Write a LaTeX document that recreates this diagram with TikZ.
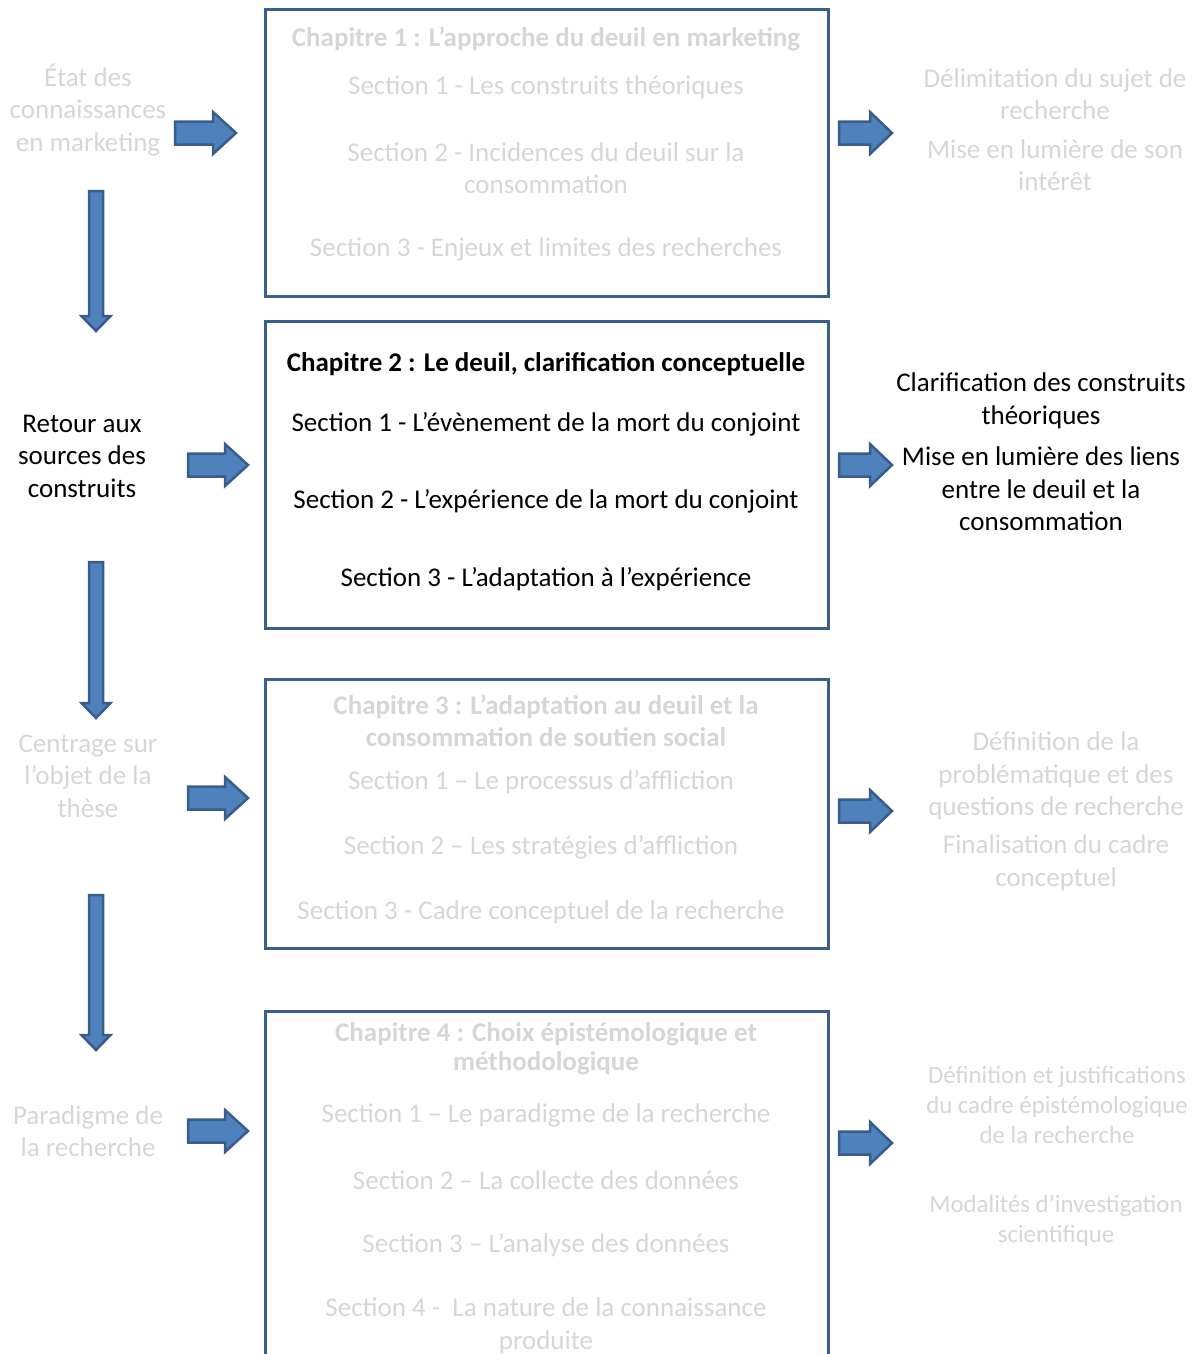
\documentclass[tikz,border=0pt]{standalone}
\usepackage{fontspec}
\setmainfont{Carlito}
\definecolor{fadedgray}{RGB}{214,214,214}
\definecolor{arrowfill}{RGB}{79,129,189}
\definecolor{arrowline}{RGB}{56,93,138}
\definecolor{boxline}{RGB}{58,95,140}
\newcommand\rightblock[5]{%
  \draw[blockarrow] (#1,#3-11.5) -- (#4,#3-11.5) -- (#4,#3-21) -- (#2,#3) -- (#4,#3+21) -- (#4,#3+11.5) -- (#1,#3+11.5) -- cycle;
  \coordinate (#5) at (#2,#3);}
\newcommand\downblock[5]{%
  \draw[blockarrow] (#1-7,#2) -- (#1+7,#2) -- (#1+7,#4) -- (#1+14.5,#4) -- (#1,#3) -- (#1-14.5,#4) -- (#1-7,#4) -- cycle;
  \coordinate (#5) at (#1,#3);}
\begin{document}
\begin{tikzpicture}[x=1pt,y=-1pt,
  base/.style={font=\fontsize{27}{32.5}\selectfont, align=center, inner sep=0pt},
  small/.style={font=\fontsize{24.8}{30}\selectfont, align=center, inner sep=0pt},
  faded/.style={text=fadedgray},
  live/.style={text=black},
  chapbox/.style={draw=boxline, line width=3pt, minimum width=563pt, anchor=north west, inner sep=0pt},
  blockarrow/.style={fill=arrowfill, draw=arrowline, line width=2.5pt, line join=miter}]
\useasboundingbox (0,0) rectangle (1197,1354);
\clip (0,0) rectangle (1197,1354);

% chapter boxes
\node[chapbox, minimum height=286pt] (box1) at (263.5,8.5) {};
\node[chapbox, minimum height=307pt] (box2) at (263.5,319.5) {};
\node[chapbox, minimum height=269pt] (box3) at (263.5,677.5) {};
\node[chapbox, minimum height=420pt] (box4) at (263.5,1009.5) {};

% box 1
\node[base, faded, font=\fontsize{27}{32.5}\selectfont\bfseries] (c1t) at (546,39) {Chapitre 1 : L’approche du deuil en marketing};
\node[base, faded] (c1s1) at (546,87) {Section 1 - Les construits théoriques};
\node[base, faded] (c1s2) at (546,168) {Section 2 - Incidences du deuil sur la\\consommation};
\node[base, faded] (c1s3) at (546,249) {Section 3 - Enjeux et limites des recherches};

% box 2
\node[base, live, font=\fontsize{27}{32.5}\selectfont\bfseries] (c2t) at (546,364) {Chapitre 2 : Le deuil, clarification conceptuelle};
\node[base, live] (c2s1) at (546,424) {Section 1 - L’évènement de la mort du conjoint};
\node[base, live] (c2s2) at (546,501) {Section 2 - L’expérience de la mort du conjoint};
\node[base, live] (c2s3) at (546,579) {Section 3 - L’adaptation à l’expérience};

% box 3
\node[base, faded, font=\fontsize{27}{32.5}\selectfont\bfseries] (c3t) at (546,721) {Chapitre 3 : L’adaptation au deuil et la\\consommation de soutien social};
\node[base, faded] (c3s1) at (541,782) {Section 1 – Le processus d’affliction};
\node[base, faded] (c3s2) at (541,847) {Section 2 – Les stratégies d’affliction};
\node[base, faded] (c3s3) at (541,912) {Section 3 - Cadre conceptuel de la recherche};

% box 4
\node[base, faded, font=\fontsize{27}{29}\selectfont\bfseries] (c4t) at (546,1049) {Chapitre 4 : Choix épistémologique et\\méthodologique};
\node[base, faded] (c4s1) at (546,1115) {Section 1 – Le paradigme de la recherche};
\node[base, faded] (c4s2) at (546,1180) {Section 2 – La collecte des données};
\node[base, faded] (c4s3) at (546,1245) {Section 3 – L’analyse des données};
\node[base, faded] (c4s4) at (546,1326) {Section 4 -\ \ La nature de la connaissance\\produite};

% left texts
\node[base, faded] (l1) at (88,110) {État des\\connaissances\\en marketing};
\node[base, live] (l2) at (82,456) {Retour aux\\sources des\\construits};
\node[base, faded] (l3) at (88,776) {Centrage sur\\l’objet de la\\thèse};
\node[base, faded] (l4) at (88,1131) {Paradigme de\\la recherche};

% right texts
\node[base, faded] (r1a) at (1055,94) {Délimitation du sujet de\\recherche};
\node[base, faded] (r1b) at (1055,165) {Mise en lumière de son\\intérêt};
\node[base, live] (r2a) at (1041,401) {Clarification des construits\\théoriques};
\node[base, live] (r2b) at (1041,489) {Mise en lumière des liens\\entre le deuil et la\\consommation};
\node[base, faded] (r3a) at (1056,776) {Définition de la\\problématique et des\\questions de recherche};
\node[base, faded] (r3b) at (1056,863) {Finalisation du cadre\\conceptuel};
\node[small, faded] (r4a) at (1057,1105) {Définition et justifications\\du cadre épistémologique\\de la recherche};
\node[small, faded] (r4b) at (1056,1221) {Modalités d’investigation\\scientifique};

% left block arrows
\rightblock{175}{236}{133}{213}{la1}
\rightblock{188}{248}{465}{225}{la2}
\rightblock{188}{248}{798}{225}{la3}
\rightblock{188}{248}{1131}{225}{la4}
% right block arrows
\rightblock{839}{892}{133}{870}{ra1}
\rightblock{839}{892}{465}{870}{ra2}
\rightblock{839}{892}{811}{870}{ra3}
\rightblock{839}{892}{1143}{870}{ra4}
% down block arrows
\downblock{96}{191}{331}{316}{da1}
\downblock{96}{562}{718}{703}{da2}
\downblock{96}{895}{1050}{1035}{da3}
\end{tikzpicture}
\end{document}
